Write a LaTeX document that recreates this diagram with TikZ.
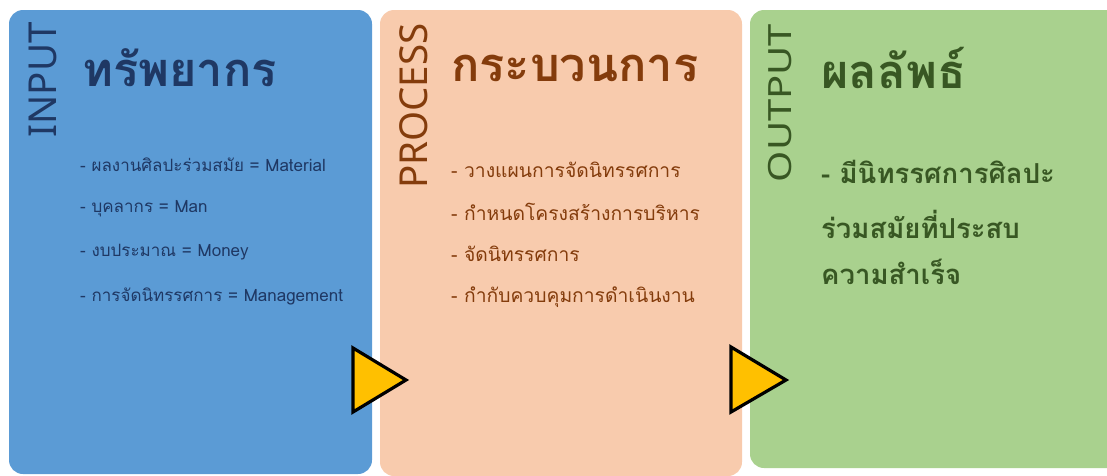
\documentclass[tikz,border=0pt]{standalone}
\usepackage{fontspec}
\setmainfont{Noto Sans}
\newfontfamily\thaifont[Script=Thai]{Loma}
\begin{document}
\begin{tikzpicture}[x=1pt, y=-1pt]

      % Colors: panel fills and text
      \definecolor{inputfill}{RGB}{91,155,213}
      \definecolor{processfill}{RGB}{248,203,173}
      \definecolor{outputfill}{RGB}{169,209,142}
      \definecolor{inputtext}{RGB}{31,56,100}
      \definecolor{processtext}{RGB}{132,60,12}
      \definecolor{outputtext}{RGB}{56,87,35}
      \definecolor{arrowfill}{RGB}{255,192,0}

      % font sizes
      \def\sidesize{\fontsize{38.5}{42}\selectfont}
      \def\headsize{\fontsize{47}{52}\selectfont}
      \def\itemsize{\fontsize{17}{20}\selectfont}

      \tikzset{
        panel/.style={rounded corners=14pt},
        sidelabel/.style={rotate=90, inner sep=0pt, font=\sidesize},
        heading/.style={anchor=west, inner sep=0pt, font=\thaifont\bfseries\headsize},
        item/.style={anchor=west, inner sep=0pt, font=\thaifont\itemsize},
        result/.style={anchor=west, inner sep=0pt, font=\thaifont\bfseries\fontsize{27.5}{30}\selectfont},
        pointer/.style={fill=arrowfill, draw=black, line width=3.2pt, line join=miter}
      }

      \useasboundingbox (0,0) rectangle (1107,475);

      % --- Left panel: INPUT ---
      \fill[panel, inputfill] (9,10) rectangle (372,474);
      \node[sidelabel, text=inputtext] (inlabel) at (43,80) {INPUT};
      \node[heading, text=inputtext] (inhead) at (82,68) {ทรัพยากร};
      \node[item, text=inputtext] (in1) at (80,165) {- ผลงานศิลปะร่วมสมัย = Material};
      \node[item, text=inputtext] (in2) at (80,209) {- บุคลากร = Man};
      \node[item, text=inputtext] (in3) at (80,252) {- งบประมาณ = Money};
      \node[item, text=inputtext] (in4) at (80,296) {- การจัดนิทรรศการ = Management};

      % --- Middle panel: PROCESS ---
      \fill[panel, processfill] (380,10) rectangle (742,476);
      \node[sidelabel, text=processtext] (proclabel) at (414,106) {PROCESS};
      \node[heading, text=processtext] (prochead) at (451,68) {กระบวนการ};
      \node[item, text=processtext, font=\thaifont\fontsize{19.3}{22}\selectfont] (proc1) at (451,170) {- วางแผนการจัดนิทรรศการ};
      \node[item, text=processtext, font=\thaifont\fontsize{19.3}{22}\selectfont] (proc2) at (451,212) {- กำหนดโครงสร้างการบริหาร};
      \node[item, text=processtext, font=\thaifont\fontsize{19.3}{22}\selectfont] (proc3) at (451,254) {- จัดนิทรรศการ};
      \node[item, text=processtext, font=\thaifont\fontsize{19.3}{22}\selectfont] (proc4) at (451,297) {- กำกับควบคุมการดำเนินงาน};

      % --- Right panel: OUTPUT ---
      \fill[panel, outputfill] (750,10) rectangle (1121,468);
      \node[sidelabel, text=outputtext, font=\fontsize{32}{36}\selectfont] (outlabel) at (780,103) {\scalebox{1.25}[1]{OUTPUT}};
      \node[heading, text=outputtext] (outhead) at (821,68) {ผลลัพธ์};
      \node[result, text=outputtext] (out1) at (821,172) {- มีนิทรรศการศิลปะ};
      \node[result, text=outputtext] (out2) at (821,224) {ร่วมสมัยที่ประสบ};
      \node[result, text=outputtext] (out3) at (821,272) {ความสำเร็จ};

      % --- yellow pointers between panels ---
      \draw[pointer] (353,348) -- (353,412) -- (406,380) -- cycle;
      \draw[pointer] (731,347) -- (731,412) -- (786,380) -- cycle;

    \end{tikzpicture}
\end{document}
